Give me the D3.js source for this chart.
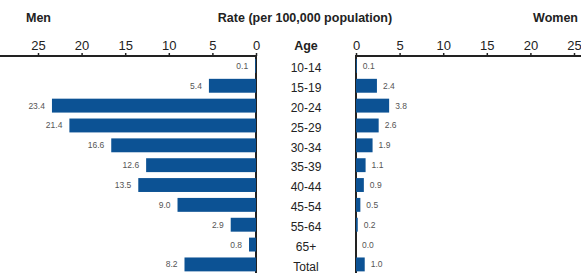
<!DOCTYPE html>
<html>
<head>
<meta charset="utf-8">
<script src="https://cdn.jsdelivr.net/npm/d3@7"></script>
<style>
  body { margin: 0; background: #fff; }
  svg { display: block; font-family: "Liberation Sans", Arial, sans-serif; }
</style>
</head>
<body>
<div id="chart"></div>
<script>
const ages = ["10-14", "15-19", "20-24", "25-29", "30-34", "35-39", "40-44", "45-54", "55-64", "65+", "Total"];
const menRates = [0.1, 5.4, 23.4, 21.4, 16.6, 12.6, 13.5, 9.0, 2.9, 0.8, 8.2];
const womenRates = [0.1, 2.4, 3.8, 2.6, 1.9, 1.1, 0.9, 0.5, 0.2, 0.0, 1.0];
const tickValues = [0, 5, 10, 15, 20, 25];

const width = 581, height = 273;
const barColor = "#0c5294";

const svg = d3.select("#chart")
  .append("svg")
  .attr("width", width)
  .attr("height", height);

const axisY = 56;

// scales
const xMen = d3.scaleLinear().domain([0, 25]).range([256, 38]);
const xWomen = d3.scaleLinear().domain([0, 25]).range([356, 574]);

const y = d3.scaleBand()
  .domain(ages)
  .range([axisY, axisY + 11 * 19.85])
  .paddingInner(0.3)
  .paddingOuter(0.15);

// titles
svg.append("text")
  .attr("x", 305).attr("y", 22)
  .attr("text-anchor", "middle")
  .style("font-size", "12.5px").style("font-weight", "bold").style("fill", "#222")
  .text("Rate (per 100,000 population)");

svg.append("text")
  .attr("x", 26).attr("y", 22)
  .style("font-size", "12.5px").style("font-weight", "bold").style("fill", "#222")
  .text("Men");

svg.append("text")
  .attr("x", 578).attr("y", 22)
  .attr("text-anchor", "end")
  .style("font-size", "12.5px").style("font-weight", "bold").style("fill", "#222")
  .text("Women");

svg.append("text")
  .attr("x", 306).attr("y", 50)
  .attr("text-anchor", "middle")
  .style("font-size", "12.5px").style("font-weight", "bold").style("fill", "#222")
  .text("Age");

// axes
const drawAxis = (scale, x0, x1) => {
  const g = svg.append("g")
    .attr("transform", `translate(0,${axisY})`)
    .call(d3.axisTop(scale).tickValues(tickValues).tickSize(3).tickPadding(3));
  g.select(".domain").remove();
  g.append("line")
    .attr("x1", x0).attr("x2", x1)
    .attr("stroke", "#222").attr("stroke-width", 2);
  g.selectAll(".tick line").attr("stroke", "#222").attr("stroke-width", 1.5);
  g.selectAll(".tick text")
    .style("font-size", "13px")
    .style("font-family", "'Liberation Sans', Arial, sans-serif")
    .attr("fill", "#222");
};
drawAxis(xMen, 0, 257);
drawAxis(xWomen, 355, width);

// vertical zero lines
svg.append("line")
  .attr("x1", xMen(0)).attr("x2", xMen(0))
  .attr("y1", axisY).attr("y2", height)
  .attr("stroke", "#222").attr("stroke-width", 2);
svg.append("line")
  .attr("x1", xWomen(0)).attr("x2", xWomen(0))
  .attr("y1", axisY).attr("y2", height)
  .attr("stroke", "#222").attr("stroke-width", 2);

const men = ages.map((a, i) => ({ age: a, v: menRates[i] }));
const women = ages.map((a, i) => ({ age: a, v: womenRates[i] }));

// men bars
svg.selectAll(".men-bar")
  .data(men)
  .join("rect")
  .attr("class", "men-bar")
  .attr("x", d => xMen(d.v))
  .attr("y", d => y(d.age))
  .attr("width", d => xMen(0) - xMen(d.v))
  .attr("height", y.bandwidth())
  .attr("fill", barColor);

svg.selectAll(".men-label")
  .data(men)
  .join("text")
  .attr("class", "men-label")
  .attr("x", d => xMen(d.v) - 7)
  .attr("y", d => y(d.age) + y.bandwidth() / 2)
  .attr("dy", "0.35em")
  .attr("text-anchor", "end")
  .style("font-size", "8.5px")
  .style("fill", "#555")
  .text(d => d.v.toFixed(1));

// women bars
svg.selectAll(".women-bar")
  .data(women)
  .join("rect")
  .attr("class", "women-bar")
  .attr("x", xWomen(0))
  .attr("y", d => y(d.age))
  .attr("width", d => xWomen(d.v) - xWomen(0))
  .attr("height", y.bandwidth())
  .attr("fill", barColor);

svg.selectAll(".women-label")
  .data(women)
  .join("text")
  .attr("class", "women-label")
  .attr("x", d => xWomen(d.v) + 6)
  .attr("y", d => y(d.age) + y.bandwidth() / 2)
  .attr("dy", "0.35em")
  .style("font-size", "8.5px")
  .style("fill", "#555")
  .text(d => d.v.toFixed(1));

// age labels
svg.selectAll(".age-label")
  .data(ages)
  .join("text")
  .attr("class", "age-label")
  .attr("x", 306)
  .attr("y", d => y(d) + y.bandwidth() / 2 + 2)
  .attr("dy", "0.35em")
  .attr("text-anchor", "middle")
  .style("font-size", "12px")
  .style("fill", "#222")
  .text(d => d);
</script>
</body>
</html>
